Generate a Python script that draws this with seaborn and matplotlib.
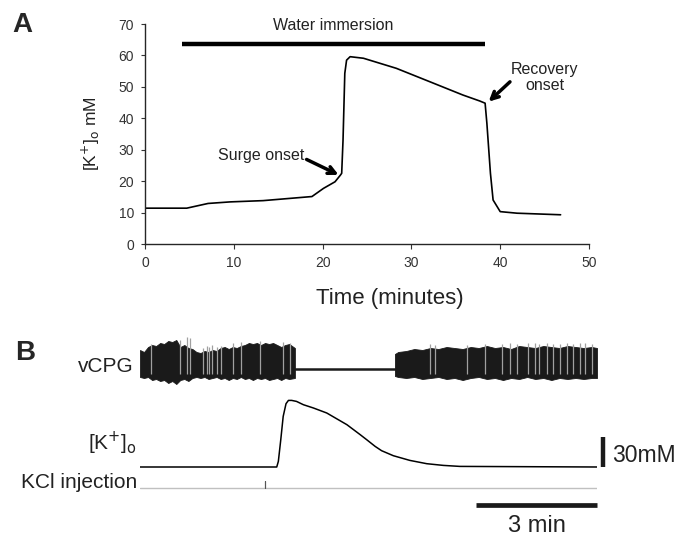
import matplotlib
matplotlib.use('Agg')
import matplotlib.pyplot as plt
import numpy as np
import pandas as pd
import seaborn as sns

sns.set_style('ticks')
plt.rcParams.update({'font.family'     : ['Liberation Sans', 'DejaVu Sans'],
                     'xtick.labelsize' : 10,
                     'ytick.labelsize' : 10,
                     'axes.linewidth'  : 1.0,
                     'xtick.major.size': 3.5,
                     'ytick.major.size': 3.0})

# ---- panel A: [K+]o during water immersion (minutes, mM)
a_time = [0, 4.7, 7.1, 9.6, 13.3, 18.8, 20.1, 21.4, 22.0, 22.15, 22.3, 22.5, 22.7,
          23.1, 24.6, 28.3, 32.1, 35.8, 37.7, 38.3, 38.5, 38.9, 39.2, 40.0, 41.9, 46.8]
a_k    = [11.4, 11.4, 12.9, 13.4, 13.8, 15.1, 17.7, 19.8, 21.9, 22.5, 33.0, 54.3, 58.5,
          59.6, 59.1, 55.9, 51.6, 47.4, 45.5, 44.8, 38.4, 22.5, 14.0, 10.3, 9.8, 9.3]
immersion = (4.2, 38.3)
immersion_level = 63.6

# ---- panel B: vCPG envelope (a.u.), [K+]o rise (mM), KCl injection (a.u.); time in minutes
burst1_t   = [0, 0.1, 0.2, 0.3, 0.4, 0.5, 0.6, 0.7, 0.8, 0.9, 1.0, 1.1, 1.2, 1.3, 1.4, 1.5,
              1.6, 1.7, 1.8, 1.9, 2.0, 2.1, 2.2, 2.3, 2.4, 2.5, 2.6, 2.7, 2.8, 2.9, 3.0,
              3.1, 3.2, 3.3, 3.4, 3.5, 3.6, 3.7, 3.84]
burst1_top = [19, 17, 22, 24, 23, 26, 25, 28, 27, 29, 22, 24, 21, 20, 17, 16,
              18, 17, 19, 18, 21, 22, 20, 22, 21, 23, 24, 26, 25, 26, 24,
              26, 25, 26, 24, 22, 24, 25, 21]
burst1_bot = [-8, -9, -8, -11, -10, -12, -11, -14, -12, -15, -11, -10, -12, -9, -8, -9,
              -8, -10, -9, -8, -10, -9, -11, -9, -10, -8, -10, -9, -11, -9, -10,
              -9, -11, -10, -9, -11, -9, -10, -9]
burst2_t   = [6.32, 6.4, 6.6, 6.8, 7.0, 7.2, 7.4, 7.6, 7.8, 8.0, 8.2, 8.4, 8.6, 8.8,
              9.0, 9.2, 9.4, 9.6, 9.8, 10.0, 10.2, 10.4, 10.6, 10.8, 11.0, 11.2, 11.33]
burst2_top = [15, 17, 18, 20, 19, 21, 20, 22, 21, 20, 22, 21, 23, 21,
              22, 20, 23, 22, 21, 23, 22, 21, 23, 22, 21, 22, 21]
burst2_bot = [-7, -8, -9, -8, -10, -9, -8, -10, -9, -11, -9, -8, -10, -9,
              -11, -9, -10, -8, -10, -9, -11, -9, -10, -9, -10, -9, -9]
spike_t    = [0.27, 0.99, 1.16, 1.24, 1.57, 1.65, 1.71, 1.78, 1.90, 2.01, 2.31, 2.50, 2.98, 3.55, 3.72,
              7.19, 7.31, 8.10, 8.55, 8.97, 9.17, 9.34, 9.63, 9.79, 9.88, 10.08, 10.25, 10.41,
              10.58, 10.74, 10.91, 11.03, 11.20]
spike_top  = [24, 28, 31, 30, 20, 22, 21, 23, 21, 22, 25, 26, 27, 26, 25,
              24, 23, 23, 24, 24, 25, 24, 25, 25, 24, 25, 24, 24, 25, 24, 25, 25, 24]
silent_t   = [3.84, 6.32]

bk_time = [0, 3.39, 3.43, 3.49, 3.55, 3.62, 3.68, 3.76, 3.88, 4.05, 4.30, 4.63, 5.13, 5.46,
           5.62, 5.83, 5.99, 6.28, 6.69, 7.11, 7.52, 7.93, 11.33]
bk_rise = [0, 0, 5.6, 27.3, 50.6, 63.3, 66.6, 66.6, 65.6, 62.3, 59, 54, 42.3, 32.3,
           27.3, 20.6, 16.3, 11.3, 6.6, 3.3, 1.6, 0.6, 0]
kcl_time = [0, 3.09, 3.09, 3.11, 3.11, 11.33]
kcl_sig  = [0, 0, 7.3, 7.3, 0, 0]
t_end = 11.33
scale_min = 3
scale_mM = 30

W, H = 695, 536
fig = plt.figure(figsize=(W / 100, H / 100), dpi=100)

def box(x0, y0, x1, y1):
    # pixel box -> figure fraction
    return [x0 / W, 1 - y1 / H, (x1 - x0) / W, (y1 - y0) / H]

# ---------------- A
axA = fig.add_axes(box(145, 24, 589, 244))
dfA = pd.DataFrame({'t': a_time, 'k': a_k})
sns.lineplot(data=dfA, x='t', y='k', ax=axA, color='black', lw=1.2)
axA.set(xlim=(0, 50), ylim=(0, 70), xticks=range(0, 51, 10), yticks=range(0, 71, 10))
sns.despine(ax=axA)
axA.tick_params(colors='#333333', pad=5)
axA.set_xlabel('Time (minutes)', fontsize=16, color='#222222')
axA.xaxis.set_label_coords(0.552, -0.2)
axA.set_ylabel(r'[K$^{+}$]$_{\mathrm{o}}$ mM', fontsize=12.5, color='#222222')
axA.yaxis.set_label_coords(-0.097, 0.5)

axA.plot(immersion, [immersion_level] * 2, color='black', lw=3.2, solid_capstyle='butt')
axA.text(21.2, 69.4, 'Water immersion', ha='center', va='center', fontsize=11.5, color='#222222')

axA.text(18.0, 28.3, 'Surge onset', ha='right', va='center', fontsize=11.5, color='#222222')
axA.annotate('', xy=(21.8, 22.0), xytext=(18.2, 26.9),
             arrowprops=dict(arrowstyle='->', lw=2.5, color='black', mutation_scale=13,
                             shrinkA=0, shrinkB=0))
axA.text(45.0, 53.0, 'Recovery\nonset', ha='center', va='center', fontsize=11.5,
         color='#222222', linespacing=1.15)
axA.annotate('', xy=(38.7, 45.3), xytext=(41.1, 51.6),
             arrowprops=dict(arrowstyle='->', lw=2.5, color='black', mutation_scale=13,
                             shrinkA=0, shrinkB=0))

fig.text(12 / W, 1 - 25 / H, 'A', fontsize=20, fontweight='bold', va='center')

# ---------------- B
axC = fig.add_axes(box(140, 330, 597, 400))
axC.set(xlim=(0, t_end), ylim=(-31, 39))
axC.fill_between(burst1_t, burst1_bot, burst1_top, color='#1a1a1a', lw=0.6, edgecolor='#1a1a1a')
axC.fill_between(burst2_t, burst2_bot, burst2_top, color='#1a1a1a', lw=0.6, edgecolor='#1a1a1a')
axC.plot(silent_t, [0, 0], color='#1a1a1a', lw=1.8)
axC.vlines(spike_t, -5, np.array(spike_top) + 1, color='#a0a0a0', lw=0.9)
axC.axis('off')

axK = fig.add_axes(box(140, 390, 597, 470))
dfK = pd.DataFrame({'t': bk_time, 'k': bk_rise})
sns.lineplot(data=dfK, x='t', y='k', ax=axK, color='black', lw=1.1)
axK.set(xlim=(0, t_end), ylim=(-3, 77))
axK.plot([t_end + 0.15] * 2, [0, scale_mM], color='#1a1a1a', lw=3.2,
         solid_capstyle='butt', clip_on=False)
axK.axis('off')

axI = fig.add_axes(box(140, 475, 597, 495))
axI.plot(kcl_time[:2] + kcl_time[-1:], [0, 0, 0], color='#c0c0c0', lw=1.0)
axI.plot(kcl_time[1:5], kcl_sig[1:5], color='#555555', lw=0.8)
axI.set(xlim=(0, t_end), ylim=(-7, 13))
axI.plot([t_end - scale_min, t_end], [-17, -17], color='#1a1a1a', lw=3.4,
         solid_capstyle='butt', clip_on=False)
axI.axis('off')

fig.text(15 / W, 1 - 353 / H, 'B', fontsize=20, fontweight='bold', va='center')
fig.text(134 / W, 1 - 367 / H, 'vCPG', fontsize=15, ha='right', va='center', color='#222222')
fig.text(137 / W, 1 - 443 / H, r'[K$^{+}$]$_{\mathrm{o}}$', fontsize=15, ha='right',
         va='center', color='#222222')
fig.text(137 / W, 1 - 482 / H, 'KCl injection', fontsize=15, ha='right', va='center',
         color='#222222')
fig.text(612 / W, 1 - 455 / H, '30mM', fontsize=16.5, ha='left', va='center', color='#222222')
fig.text(537 / W, 1 - 526 / H, '3 min', fontsize=17, ha='center', va='center', color='#222222')

fig.savefig('out.png', dpi=100)
